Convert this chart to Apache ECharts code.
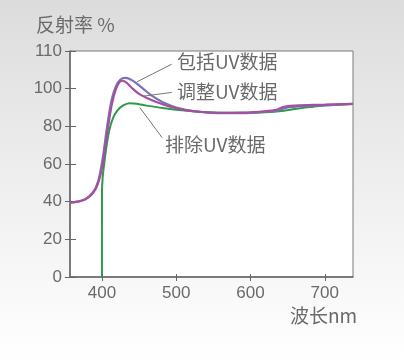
<!DOCTYPE html>
<html><head><meta charset="utf-8">
<script src="https://cdn.jsdelivr.net/npm/echarts@6/dist/echarts.min.js"></script>
<style>
html,body{margin:0;padding:0;}
body{width:404px;height:363px;background:linear-gradient(to bottom,#dcdcdc 0%,#ebebeb 40%,#f7f7f7 75%,#ffffff 100%);}
#c{width:404px;height:363px;}
</style></head>
<body><div id="c"></div>
<script>
// Data
const xTicks = [400, 500, 600, 700];
const yTickLabels = ['0', '20', '40', '60', '80', '100', '110'];

const includeNm  = [357,367,378,388,395,401,407,413,419,425,431,438,446,456,468,482,500,525,555,590,620,638,650,670,700,738];
const includeVal = [39.5,40,41.5,45,51,63,80,94,101.5,104.8,105.7,105,103,99.8,96,92.8,90,88,87,87,87.8,88.6,90,90.8,91.3,91.9];

const adjustNm  = [357,367,378,388,395,401,407,413,419,424,428,433,440,450,462,476,492,512,535,560,590,620,635,645,660,700,738];
const adjustVal = [39.5,40,41.2,44.5,50,60,76,91,100,103.6,104.2,103.2,100.5,97.2,94.8,92.5,90.4,88.6,87.6,87.2,87.3,88,88.8,90.4,91,91.5,92];

const excludeNm  = [400,400.05,401,403,406,410,415,421,428,437,447,460,480,500,530,560,590,620,645,660,680,700,738];
const excludeVal = [0,45,53,60,69,78,84.5,88.5,91,92.3,92,91,89.8,88.8,87.8,87.2,87.2,87.5,88.3,89.2,90.2,91,91.8];

const seriesNames = ['包括UV数据', '调整UV数据', '排除UV数据'];

const pairs = (xs, ys) => xs.map((x, i) => [x, ys[i]]);

const chart = echarts.init(document.getElementById('c'), null, {renderer: 'canvas'});
const txt = '#6a6a6a';
const font = "'Liberation Sans','Noto Sans CJK SC',sans-serif";
const cjkFont = "19px 'Noto Sans CJK SC','Liberation Sans',sans-serif";
const leaderStyle = {color: '#777', width: 1, type: 'solid'};
const mk = (a, b) => ({
  silent: true, symbol: ['none', 'none'], label: {show: false},
  lineStyle: leaderStyle, animation: false,
  data: [[{coord: a}, {coord: b}]]
});

chart.setOption({
  animation: false,
  textStyle: {fontFamily: font},
  grid: {left: 70, top: 51, right: 51, bottom: 86, show: true, backgroundColor: '#ffffff', borderColor: '#7a7a7a', borderWidth: 1},
  xAxis: [{
    type: 'value', min: 357, max: 738,
    axisLine: {show: true, lineStyle: {color: '#666', width: 1.5}},
    axisTick: {show: true, length: 4, lineStyle: {color: '#666'}, customValues: xTicks},
    axisLabel: {color: txt, fontSize: 17, margin: 8, fontFamily: font, customValues: xTicks},
    splitLine: {show: false}
  }, {
    type: 'value', min: 357, max: 738, position: 'bottom',
    axisLine: {show: false},
    axisTick: {show: true, inside: true, length: 3, lineStyle: {color: '#666'}, customValues: xTicks},
    axisLabel: {show: false}, splitLine: {show: false}
  }],
  yAxis: [{
    type: 'value', min: 0, max: 120, interval: 20,
    axisLine: {show: true, lineStyle: {color: '#666', width: 1.5}},
    axisTick: {show: true, length: 5, lineStyle: {color: '#666'}},
    axisLabel: {color: txt, fontSize: 17, margin: 8, fontFamily: font,
      formatter: v => yTickLabels[Math.round(v / 20)]},
    splitLine: {show: false}
  }, {
    type: 'value', min: 0, max: 120, interval: 20, position: 'left', offset: 0,
    axisLine: {show: false},
    axisTick: {show: true, inside: true, length: 6, lineStyle: {color: '#666'}},
    axisLabel: {show: false}, splitLine: {show: false}
  }],
  series: [
    {name: seriesNames[0], type: 'line', data: pairs(includeNm, includeVal), smooth: 0.35, symbol: 'none',
     lineStyle: {color: '#7b72b9', width: 2.2}, z: 3, markLine: mk([447, 103.6], [494, 113])},
    {name: seriesNames[1], type: 'line', data: pairs(adjustNm, adjustVal), smooth: 0.35, symbol: 'none',
     lineStyle: {color: '#a4509f', width: 2.2}, z: 4, markLine: mk([455, 96], [494, 98])},
    {name: seriesNames[2], type: 'line', data: pairs(excludeNm, excludeVal), smooth: 0.35, symbol: 'none',
     lineStyle: {color: '#2e9a4a', width: 2}, z: 2, markLine: mk([451, 90], [481, 74])}
  ],
  graphic: [
    {type: 'text', left: 36, top: 15, style: {text: '反射率 %', fill: txt, font: cjkFont}},
    {type: 'text', left: 290, top: 306, style: {text: '波长nm', fill: txt, font: cjkFont}},
    {type: 'text', left: 177, top: 52, style: {text: seriesNames[0], fill: txt, font: cjkFont}},
    {type: 'text', left: 177, top: 82, style: {text: seriesNames[1], fill: txt, font: cjkFont}},
    {type: 'text', left: 165, top: 135, style: {text: seriesNames[2], fill: txt, font: cjkFont}}
  ]
});
</script></body></html>
